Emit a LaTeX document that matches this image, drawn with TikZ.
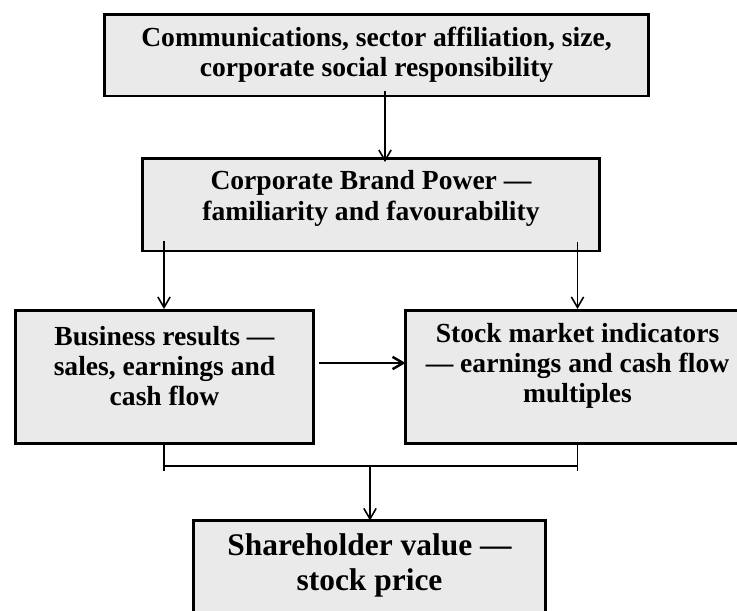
\documentclass[tikz,border=0pt]{standalone}
\usepackage{fontspec}
\setmainfont{Liberation Serif}
\usetikzlibrary{arrows.meta}
\definecolor{boxfill}{RGB}{234,234,234}
\tikzset{
  box/.style={draw,line width=1.7pt,fill=boxfill,outer sep=0pt,inner sep=0pt},
  txt/.style={align=center,font=\bfseries\fontsize{15.7}{17.2}\selectfont},
  link/.style={line width=0.9pt,->},
}
\begin{document}
\begin{tikzpicture}[x=0.02cm,y=-0.02cm,>={Straight Barb[length=6pt,width=7pt]}]
    \useasboundingbox (0,0) rectangle (737,610);
    %% boxes
    \node[box,minimum width=10.9cm,minimum height=1.64cm] (drivers) at (376.5,55) {};
    \node[txt] (driverstext) at (376.5,55) {Communications, sector affiliation, size,\\corporate social responsibility};
    \node[box,minimum width=9.15cm,minimum height=1.86cm] (brand) at (371,204.5) {};
    \node[txt] (brandtext) at (371,198.5) {Corporate Brand Power ---\\familiarity and favourability};
    \node[box,minimum width=5.96cm,minimum height=2.65cm] (results) at (164.5,377) {};
    \node[txt] (resultstext) at (164.5,366) {Business results ---\\sales, earnings and\\cash flow};
    \node[box,minimum width=6.78cm,minimum height=2.65cm] (market) at (575,377) {};
    \node[txt] (markettext) at (577.5,366) {Stock market indicators\\--- earnings and cash flow\\multiples};
    \node[box,minimum width=7.06cm,minimum height=2.06cm] (value) at (369.5,572) {};
    \node[txt,font=\bfseries\fontsize{17.9}{20}\selectfont] (valuetext) at (369.5,565.5) {Shareholder value ---\\stock price};
    %% connectors
    \coordinate (colM) at (385,0);
    \coordinate (colA) at (164,0);
    \coordinate (colB) at (577.5,0);
    \coordinate (rowH) at (0,363);
    \coordinate (join) at (370,465.7);
    \draw[link] ([yshift=2.8pt]drivers.south -| colM) -- ([yshift=-2.3pt]brand.north -| colM);
    \draw[link] ([yshift=5.7pt]brand.south -| colA) -- ([yshift=1pt]results.north -| colA);
    \draw[link] ([yshift=5.2pt]brand.south -| colB) -- ([yshift=1pt]market.north -| colB);
    \draw[link,line width=1.4pt] ([xshift=3.4pt]results.east |- rowH) -- (market.west |- rowH);
    \draw[line width=0.9pt] (results.south -| colA) -- ([yshift=-2.8pt]colA |- join);
    \draw[line width=0.9pt] (market.south -| colB) -- ([yshift=-2.8pt]colB |- join);
    \draw[line width=0.9pt] (colA |- join) -- (colB |- join);
    \draw[link] (join) -- (value.north -| join);
\end{tikzpicture}
\end{document}
